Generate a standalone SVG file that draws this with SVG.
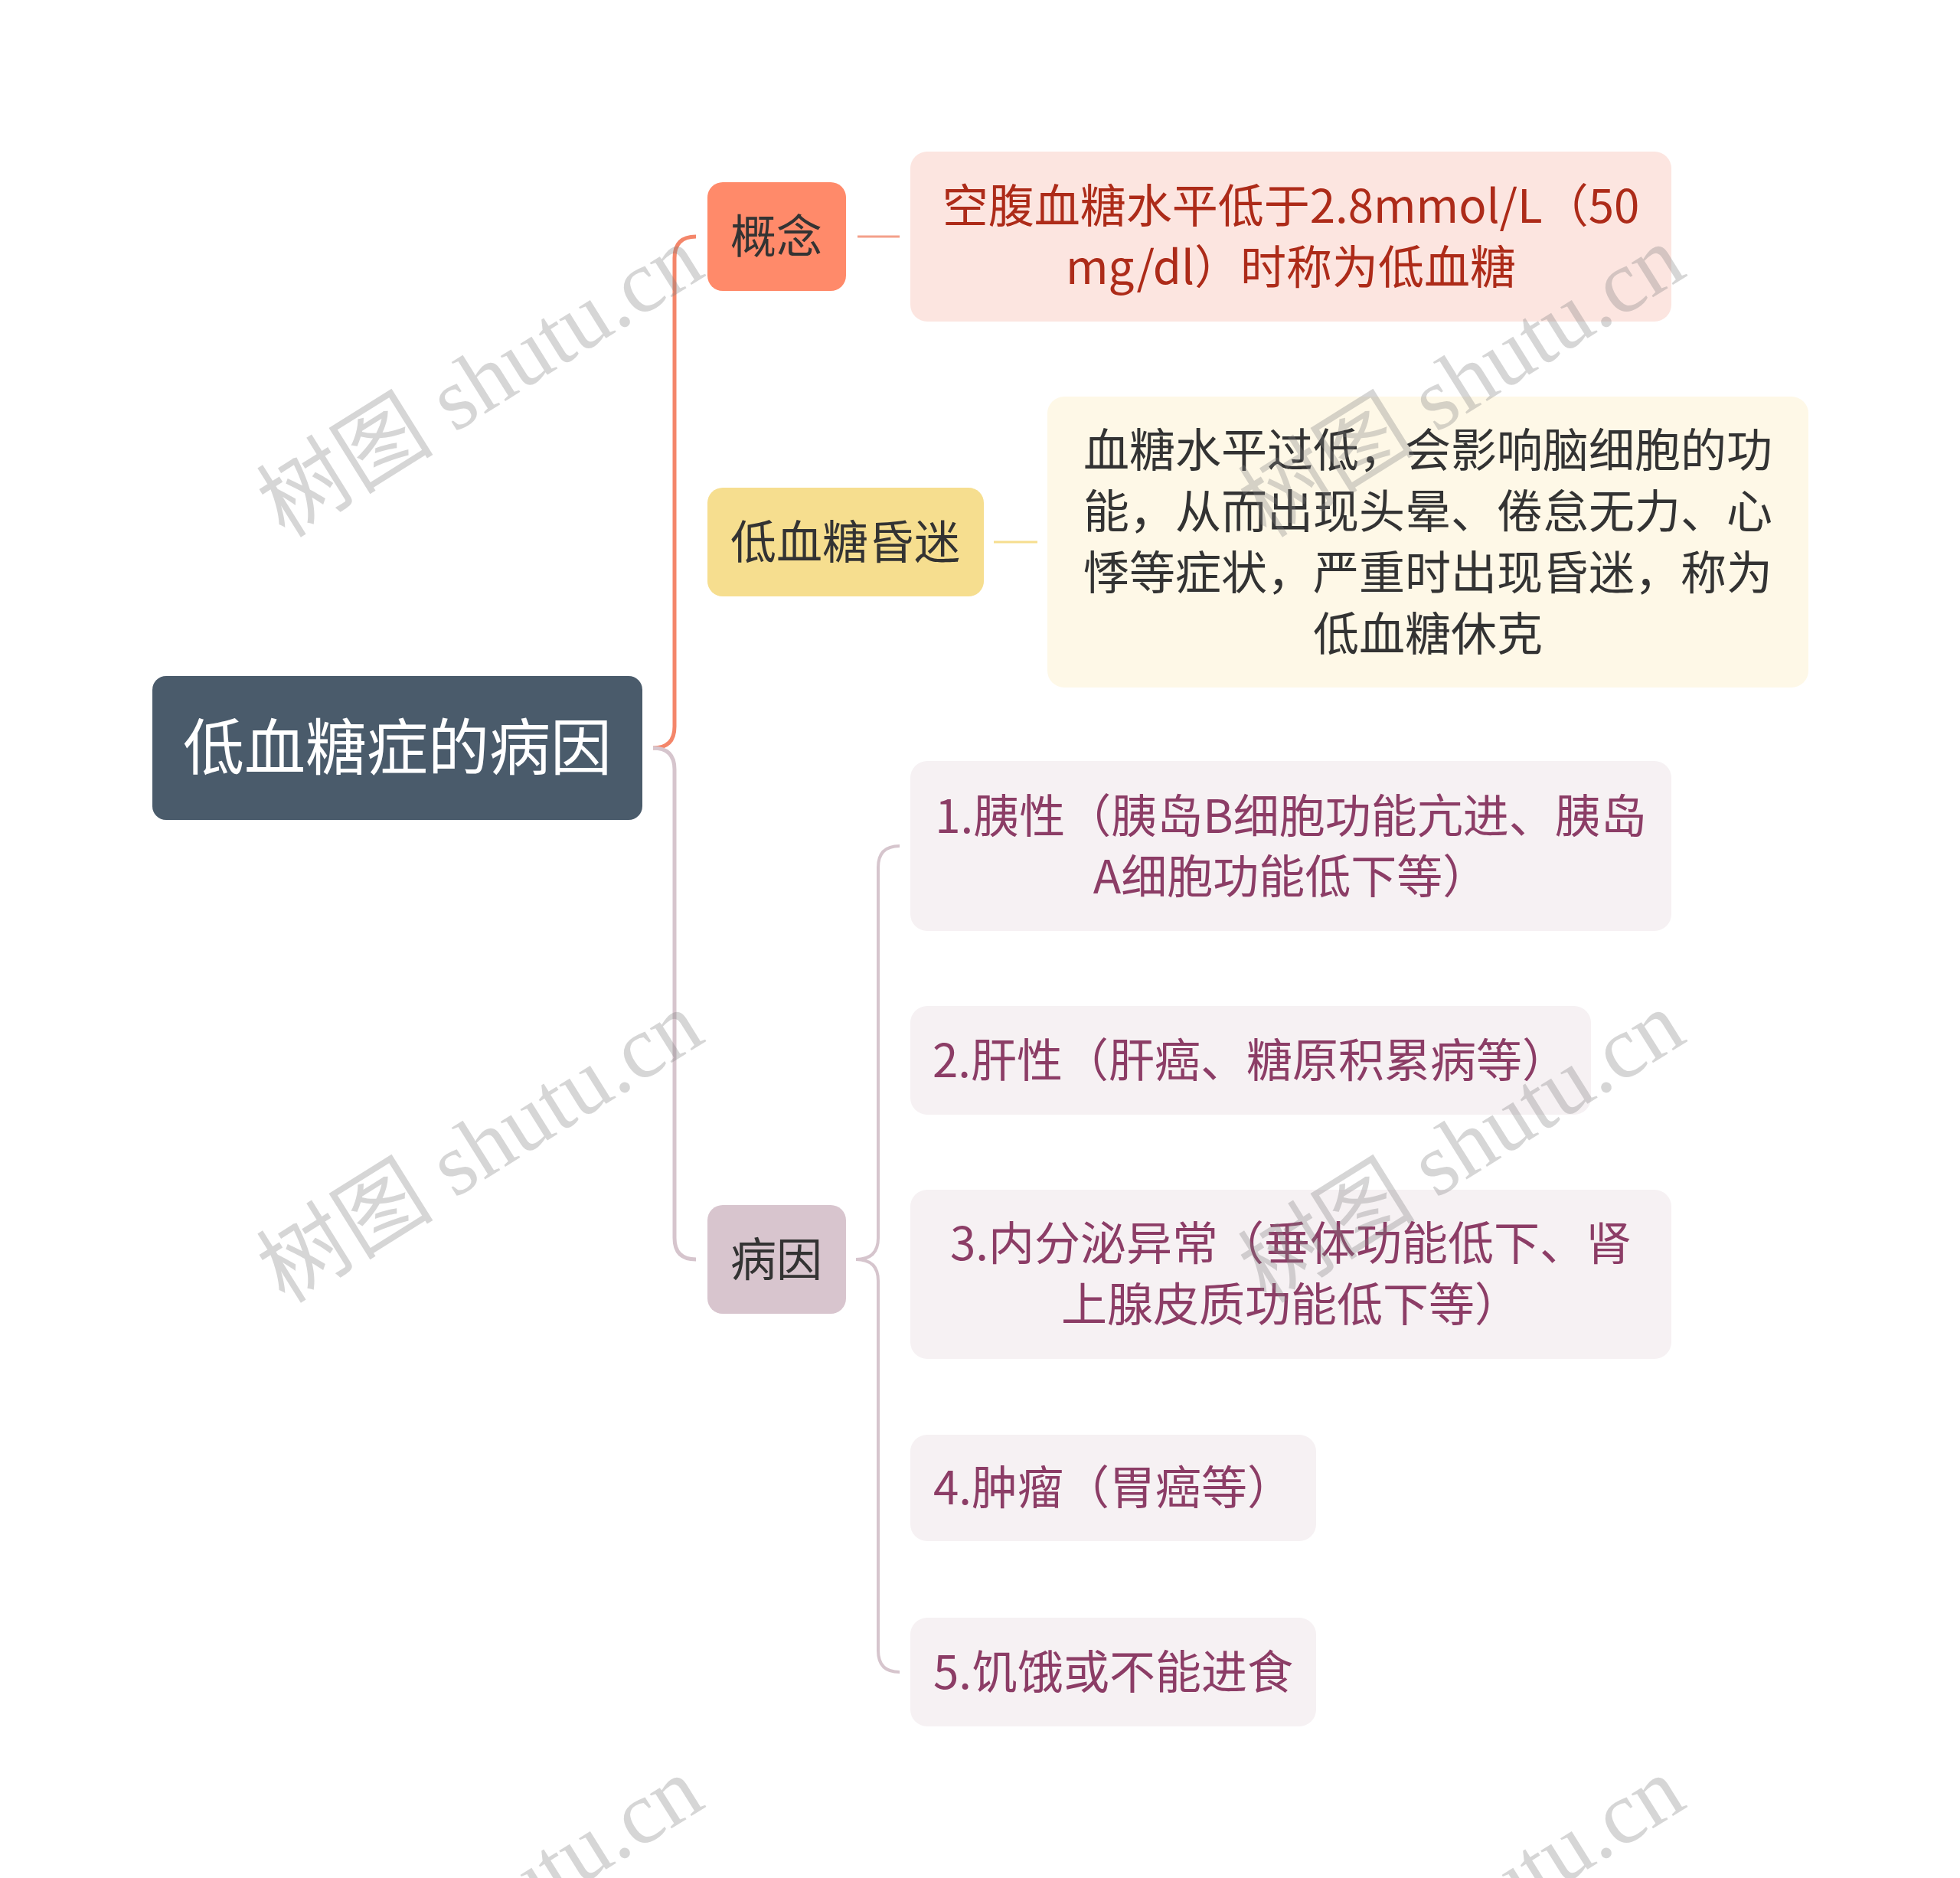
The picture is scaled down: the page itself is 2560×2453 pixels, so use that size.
<svg xmlns="http://www.w3.org/2000/svg" width="2560" height="2453" viewBox="0 0 2560 2453">
<style>
text{font-family:"Noto Sans CJK SC","Noto Sans",sans-serif;dominant-baseline:central;text-anchor:middle}
.root{fill:#fff;font-size:80px}
.main{fill:#333;font-size:60px}
.c1{fill:#ad2b19;font-size:60px}
.c2{fill:#333;font-size:60px}
.c3{fill:#8c3d66;font-size:60px}
.wm{font-family:"Liberation Serif","Noto Sans CJK SC",serif;font-size:116px;fill:#808080;fill-opacity:0.32;dominant-baseline:alphabetic;text-anchor:start}
.lo{fill:none;stroke:#f4866a;stroke-width:5}
.lm{fill:none;stroke:#d6c5cd;stroke-width:5}
.lm2{fill:none;stroke:#d6c5cd;stroke-width:4}
</style>
<rect width="2560" height="2453" fill="#fff"/>
<g id="connectors">
<path class="lo" d="M853,977 Q881,977 881,949 L881,337 Q881,309 909,309"/>
<path class="lm" d="M853,977 Q881,977 881,1005 L881,1617 Q881,1645 909,1645"/>
<path d="M1120,309 L1175,309" stroke="#f4a08a" stroke-width="3"/>
<path d="M1298,708 L1355,708" stroke="#f6de8f" stroke-width="3"/>
<path class="lm2" d="M1118,1645 Q1147,1645 1147,1617 L1147,1133 Q1147,1105 1175,1105"/>
<path class="lm2" d="M1118,1645 Q1147,1645 1147,1673 L1147,2156 Q1147,2184 1175,2184"/>
</g>
<g id="root">
<rect x="199" y="883" width="640" height="188" rx="18" fill="#4a5b6b"/>
<text class="root" x="519" y="970">低血糖症的病因</text>
</g>
<g id="node-gainian">
<rect x="924" y="238" width="181" height="142" rx="20" fill="#ff8a6a"/>
<text class="main" x="1014" y="304">概念</text>
</g>
<g id="node-gainian-text">
<rect x="1189" y="198" width="994" height="222" rx="22" fill="#fce5e0"/>
<text class="c1" x="1686" y="264">空腹血糖水平低于2.8mmol/L（50</text>
<text class="c1" x="1686" y="344">mg/dl）时称为低血糖</text>
</g>
<g id="node-hunmi">
<rect x="924" y="637" width="361" height="142" rx="20" fill="#f6de8f"/>
<text class="main" x="1104" y="703">低血糖昏迷</text>
</g>
<g id="node-hunmi-text">
<rect x="1368" y="518" width="994" height="380" rx="22" fill="#fef8e7"/>
<text class="c2" x="1865" y="583">血糖水平过低，会影响脑细胞的功</text>
<text class="c2" x="1865" y="663">能，从而出现头晕、倦怠无力、心</text>
<text class="c2" x="1865" y="743">悸等症状，严重时出现昏迷，称为</text>
<text class="c2" x="1865" y="823">低血糖休克</text>
</g>
<g id="node-bingyin">
<rect x="924" y="1574" width="181" height="142" rx="20" fill="#d8c5ce"/>
<text class="main" x="1014" y="1640">病因</text>
</g>
<g id="cause-1">
<rect x="1189" y="994" width="994" height="222" rx="22" fill="#f6f1f3"/>
<text class="c3" x="1686" y="1061">1.胰性（胰岛B细胞功能亢进、胰岛</text>
<text class="c3" x="1686" y="1140">A细胞功能低下等）</text>
</g>
<g id="cause-2">
<rect x="1189" y="1314" width="889" height="142" rx="22" fill="#f6f1f3"/>
<text class="c3" x="1633" y="1380">2.肝性（肝癌、糖原积累病等）</text>
</g>
<g id="cause-3">
<rect x="1189" y="1554" width="994" height="221" rx="22" fill="#f6f1f3"/>
<text class="c3" x="1686" y="1619">3.内分泌异常（垂体功能低下、肾</text>
<text class="c3" x="1686" y="1699">上腺皮质功能低下等）</text>
</g>
<g id="cause-4">
<rect x="1189" y="1874" width="530" height="139" rx="22" fill="#f6f1f3"/>
<text class="c3" x="1454" y="1938">4.肿瘤（胃癌等）</text>
</g>
<g id="cause-5">
<rect x="1189" y="2113" width="530" height="142" rx="22" fill="#f6f1f3"/>
<text class="c3" x="1454" y="2179">5.饥饿或不能进食</text>
</g>
<g id="watermarks">
<text class="wm" transform="translate(372,704) rotate(-32)">树图 shutu.cn</text>
<text class="wm" transform="translate(1654,704) rotate(-32)">树图 shutu.cn</text>
<text class="wm" transform="translate(372,1704) rotate(-32)">树图 shutu.cn</text>
<text class="wm" transform="translate(1654,1704) rotate(-32)">树图 shutu.cn</text>
<text class="wm" transform="translate(372,2704) rotate(-32)">树图 shutu.cn</text>
<text class="wm" transform="translate(1654,2704) rotate(-32)">树图 shutu.cn</text>
</g>
</svg>
